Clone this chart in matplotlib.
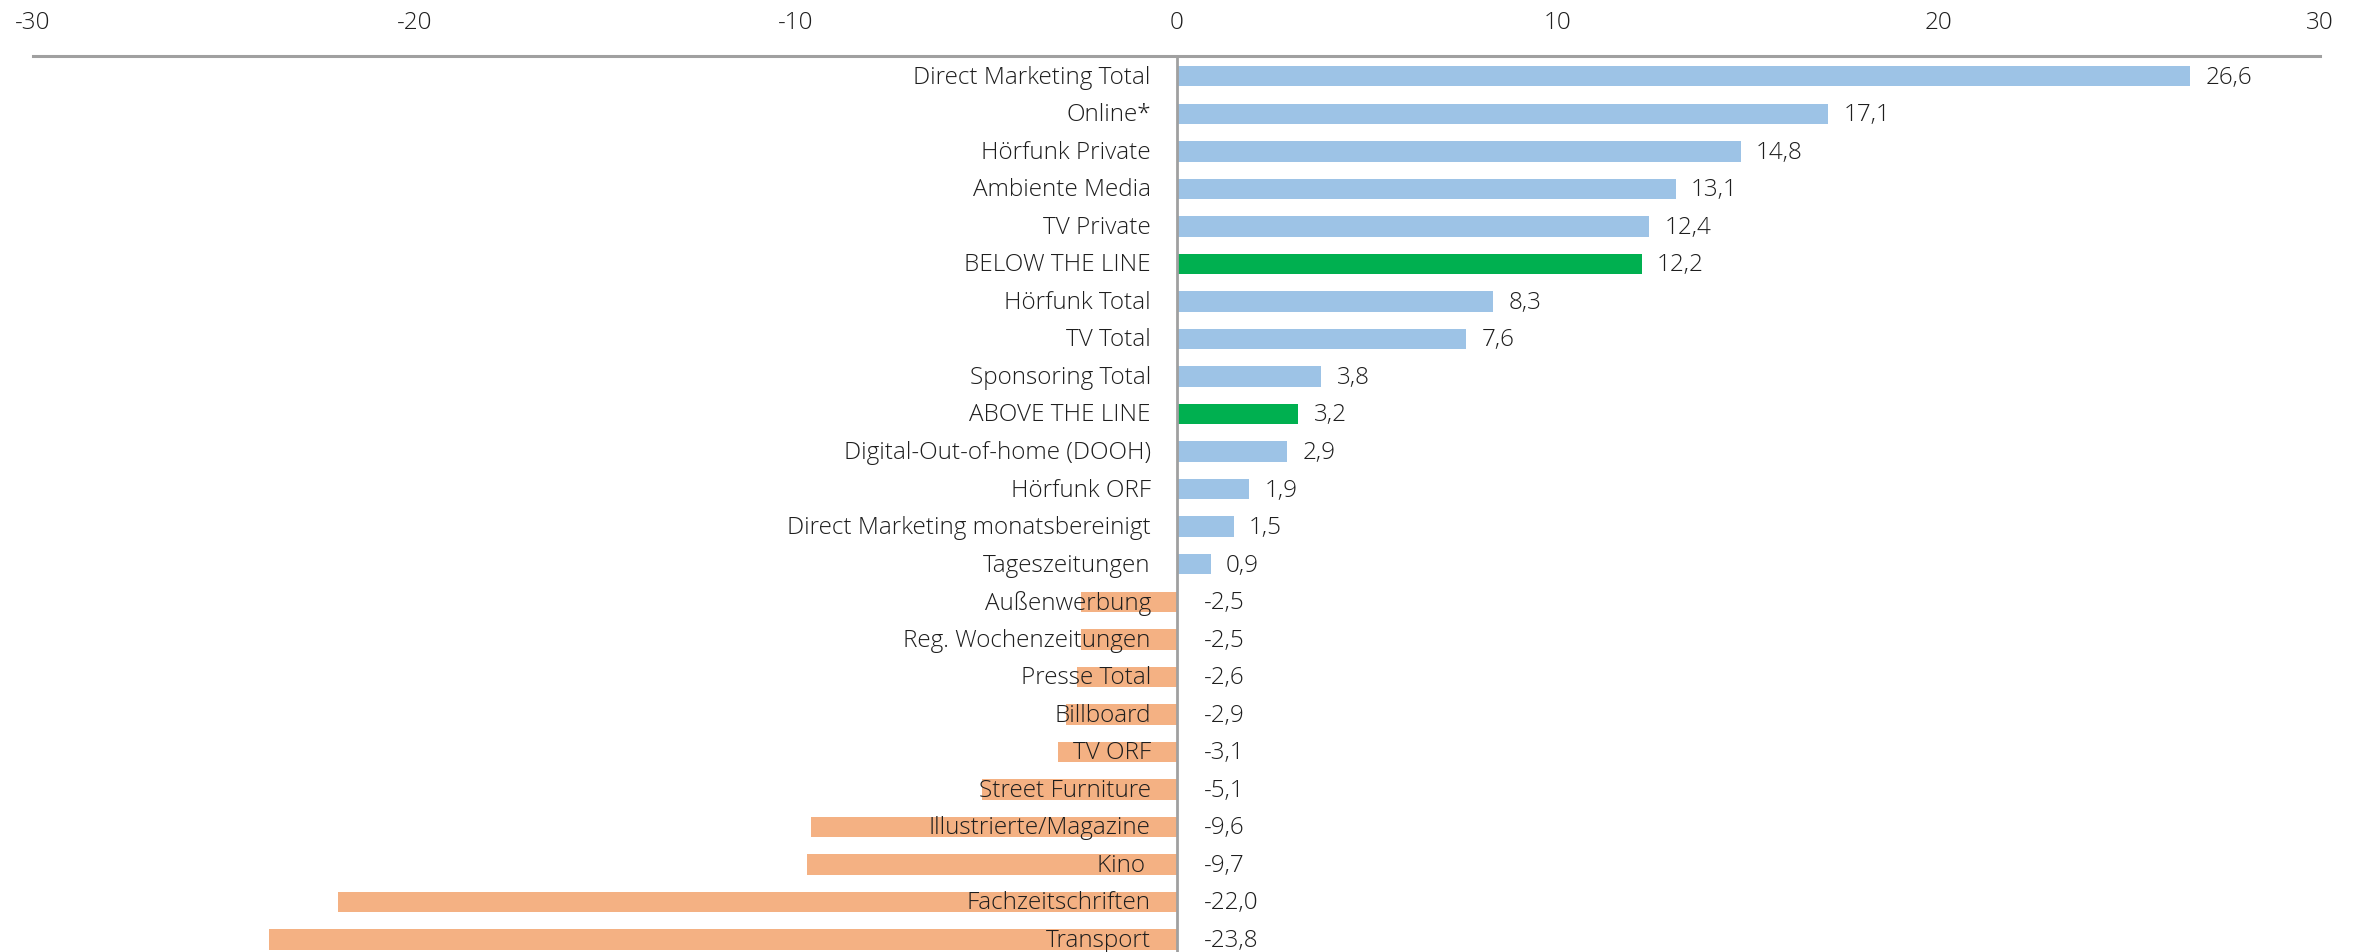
import matplotlib
matplotlib.use("Agg")
import matplotlib.pyplot as plt

categories = ["Direct Marketing Total", "Online*", "Hörfunk Private", "Ambiente Media",
              "TV Private", "BELOW THE LINE", "Hörfunk Total", "TV Total",
              "Sponsoring Total", "ABOVE THE LINE", "Digital-Out-of-home (DOOH)",
              "Hörfunk ORF", "Direct Marketing monatsbereinigt", "Tageszeitungen",
              "Außenwerbung", "Reg. Wochenzeitungen", "Presse Total", "Billboard",
              "TV ORF", "Street Furniture", "Illustrierte/Magazine", "Kino ",
              "Fachzeitschriften", "Transport"]
values = [26.6, 17.1, 14.8, 13.1, 12.4, 12.2, 8.3, 7.6, 3.8, 3.2, 2.9, 1.9, 1.5, 0.9,
          -2.5, -2.5, -2.6, -2.9, -3.1, -5.1, -9.6, -9.7, -22.0, -23.8]
highlight = ["BELOW THE LINE", "ABOVE THE LINE"]
xticks = [-30, -20, -10, 0, 10, 20, 30]

BLUE = "#9DC3E6"
GREEN = "#00B050"
ORANGE = "#F4B183"
TEXT = "#1e1e1e"
GRAY = "#A0A0A0"

plt.rcParams['font.family'] = ['Open Sans', 'DejaVu Sans']
WEIGHT = "light"

W, H = 2361, 952
fig = plt.figure(figsize=(W / 100, H / 100), dpi=100)
left = 33 / W
right = 2320 / W
top = 1 - 56 / H
ax = fig.add_axes([left, 0, right - left, top])

colors = []
for c, v in zip(categories, values):
    if c in highlight:
        colors.append(GREEN)
    elif v >= 0:
        colors.append(BLUE)
    else:
        colors.append(ORANGE)

ypos = list(range(len(categories)))
ax.barh(ypos, values, height=0.545, color=colors, zorder=2)
ax.set_xlim(-30, 30)
ax.set_ylim(23.33, -0.54)

ax.axvline(0, color=GRAY, lw=2, zorder=3)

for spine in ["left", "right", "bottom"]:
    ax.spines[spine].set_visible(False)
ax.spines["top"].set_color(GRAY)
ax.spines["top"].set_linewidth(2.2)

ax.xaxis.tick_top()
ax.set_xticks(xticks)
ax.set_xticklabels([str(t) for t in xticks], fontweight=WEIGHT)
ax.tick_params(axis="x", length=0, pad=15, labelsize=17.5, labelcolor=TEXT)
ax.set_yticks([])

fs = 17.5
for y, c, v in zip(ypos, categories, values):
    ax.annotate(c, xy=(0, y), xytext=(-18.5, -1), textcoords="offset points",
                ha="right", va="center", fontsize=fs, color=TEXT, zorder=4,
                fontweight=WEIGHT)
    lab = f"{v:.1f}".replace(".", ",")
    if v >= 0:
        ax.annotate(lab, xy=(v, y), xytext=(11, -1), textcoords="offset points",
                    ha="left", va="center", fontsize=fs, color=TEXT, zorder=4,
                    fontweight=WEIGHT)
    else:
        ax.annotate(lab, xy=(0, y), xytext=(19.5, -1), textcoords="offset points",
                    ha="left", va="center", fontsize=fs, color=TEXT, zorder=4,
                    fontweight=WEIGHT)

fig.savefig("out.png", dpi=100)
